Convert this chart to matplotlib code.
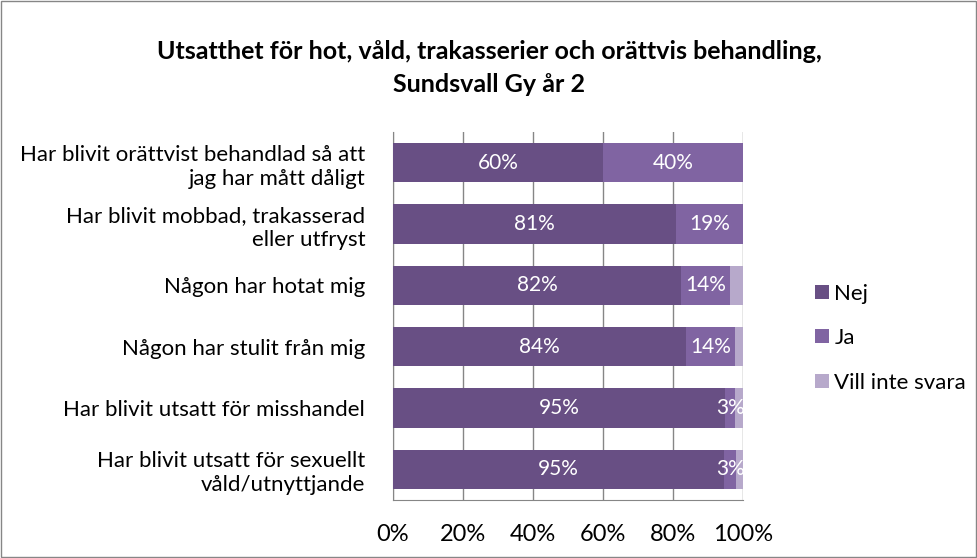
import matplotlib
matplotlib.use("Agg")
import matplotlib.pyplot as plt
import numpy as np
from matplotlib.patches import Rectangle

plt.rcParams["font.family"] = ["Lato", "DejaVu Sans"]

categories = [
    "Har blivit orättvist behandlad så att\njag har mått dåligt",
    "Har blivit mobbad, trakasserad\neller utfryst",
    "Någon har hotat mig",
    "Någon har stulit från mig",
    "Har blivit utsatt för misshandel",
    "Har blivit utsatt för sexuellt\nvåld/utnyttjande",
]
nej = [60, 81, 82.3, 83.7, 94.9, 94.6]
ja = [40, 19, 14.1, 14.0, 2.8, 3.4]
vill_inte = [0, 0, 3.6, 2.3, 2.3, 2.0]
nej_labels = ["60%", "81%", "82%", "84%", "95%", "95%"]
ja_labels = ["40%", "19%", "14%", "14%", "3%", "3%"]
series_names = ["Nej", "Ja", "Vill inte svara"]
colors = ["#684f84", "#8064a2", "#b7a9cb"]
xticks = [0, 20, 40, 60, 80, 100]

fig = plt.figure(figsize=(9.78, 5.58), dpi=100)
fig.patches.append(Rectangle((0.001, 0.001), 0.997, 0.997, transform=fig.transFigure,
                             fill=False, edgecolor="#868686", linewidth=1))
ax = fig.add_axes([0.4018, 0.1039, 0.3579, 0.6595])

y = np.arange(len(categories))
h = 0.64
left = np.zeros(len(categories))
for vals, name, col in zip([nej, ja, vill_inte], series_names, colors):
    ax.barh(y, vals, height=h, left=left, color=col, label=name, zorder=3)
    left = left + np.array(vals)

for i in range(len(categories)):
    ax.text(nej[i] / 2, y[i], nej_labels[i], ha="center", va="center",
            color="white", fontsize=15, zorder=4)
    ax.text(nej[i] + ja[i] / 2, y[i], ja_labels[i], ha="center", va="center",
            color="white", fontsize=15, zorder=4)

ax.set_xlim(0, 100)
ax.set_ylim(len(categories) - 0.5, -0.5)
ax.set_xticks(xticks)
ax.set_xticklabels([f"{t}%" for t in xticks], fontsize=17)
ax.set_yticks(y)
ax.set_yticklabels(categories, fontsize=16, linespacing=1.25)
ax.tick_params(axis="both", length=0)
ax.tick_params(axis="x", pad=17)
ax.tick_params(axis="y", pad=20)
ax.grid(axis="x", color="#868686", linewidth=1, zorder=0)
for s in ["top", "right"]:
    ax.spines[s].set_visible(False)
for s in ["left", "bottom"]:
    ax.spines[s].set_color("#868686")

fig.text(0.5, 0.878, "Utsatthet för hot, våld, trakasserier och orättvis behandling,\nSundsvall Gy år 2",
         ha="center", va="center", fontsize=18, fontweight="bold", linespacing=1.5)

ax.legend(loc="center left", bbox_to_anchor=(1.15, 0.44), frameon=False,
          fontsize=16, handlelength=0.6, handleheight=0.6, handletextpad=0.25,
          labelspacing=1.1)

fig.savefig("out.png", dpi=100)
